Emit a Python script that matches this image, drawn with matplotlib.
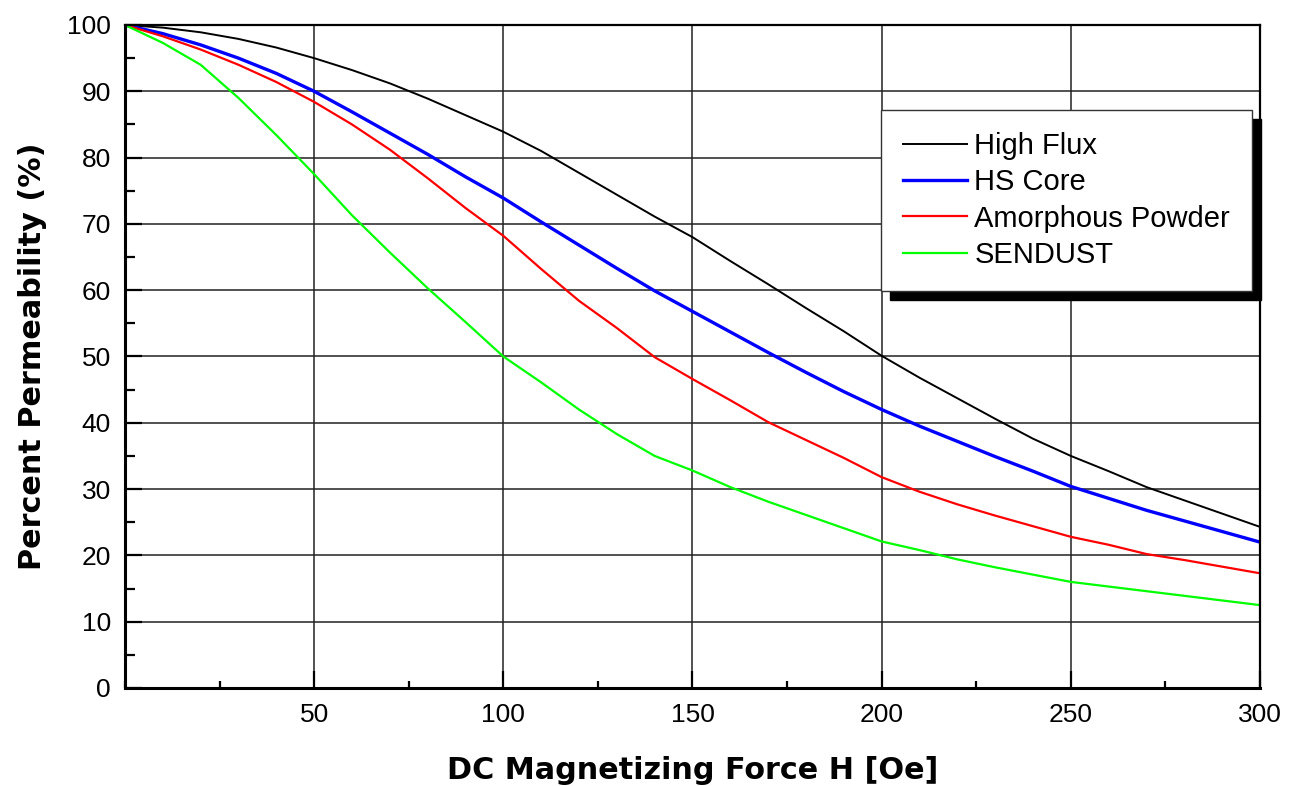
import numpy as np
import matplotlib.pyplot as plt
from matplotlib.ticker import MultipleLocator

plt.rcParams['font.family'] = ['Liberation Sans', 'DejaVu Sans']

# DC magnetizing force H [Oe]
H = [0, 10, 20, 30, 40, 50, 60, 70, 80, 90, 100, 110, 120, 130, 140, 150,
     160, 170, 180, 190, 200, 210, 220, 230, 240, 250, 260, 270, 280, 290, 300]

# percent permeability
high_flux = [100, 99.6, 98.9, 97.9, 96.6, 95.0, 93.2, 91.2, 88.9, 86.4, 83.9,
             81.0, 77.7, 74.4, 71.1, 68.0, 64.4, 60.9, 57.3, 53.8, 50.1,
             46.8, 43.7, 40.6, 37.6, 35.0, 32.7, 30.3, 28.3, 26.3, 24.3]
hs_core = [100, 98.7, 97.0, 95.0, 92.7, 90.0, 86.9, 83.7, 80.5, 77.1, 73.9,
           70.3, 66.8, 63.3, 59.9, 56.8, 53.7, 50.6, 47.6, 44.7, 42.0,
           39.5, 37.2, 34.9, 32.7, 30.4, 28.6, 26.8, 25.2, 23.6, 22.0]
amorphous = [100, 98.3, 96.3, 94.0, 91.4, 88.4, 85.0, 81.2, 76.9, 72.4, 68.2,
             63.2, 58.4, 54.3, 49.9, 46.6, 43.4, 40.1, 37.4, 34.7, 31.8,
             29.6, 27.7, 26.0, 24.4, 22.8, 21.6, 20.2, 19.3, 18.3, 17.3]
sendust = [100, 97.3, 94.0, 89.0, 83.4, 77.5, 71.3, 65.7, 60.3, 55.2, 50.0,
           46.1, 42.0, 38.3, 35.0, 32.8, 30.3, 28.1, 26.1, 24.1, 22.1,
           20.8, 19.4, 18.2, 17.1, 16.0, 15.3, 14.6, 13.9, 13.2, 12.5]

fig = plt.figure(figsize=(12.91, 7.86), dpi=100)
ax = fig.add_axes([0.0968, 0.1247, 0.8792, 0.8435])

ax.plot(H, high_flux, color="black", lw=1.4, label="High Flux")
ax.plot(H, hs_core, color="#0000ff", lw=2.4, label="HS Core")
ax.plot(H, amorphous, color="#ff0000", lw=1.6, label="Amorphous Powder")
ax.plot(H, sendust, color="#00ff00", lw=1.6, label="SENDUST")

ax.set_xlim(0, 300)
ax.set_ylim(0, 100)
ax.set_xticks([50, 100, 150, 200, 250, 300])
ax.set_yticks(range(0, 101, 10))
ax.xaxis.set_minor_locator(MultipleLocator(25))
ax.yaxis.set_minor_locator(MultipleLocator(5))
ax.tick_params(which="both", direction="in", width=1.6, labelsize=19, pad=10)
ax.tick_params(axis="x", pad=11)
ax.tick_params(which="major", length=12)
ax.tick_params(axis="x", which="minor", length=5)
ax.tick_params(axis="y", which="minor", length=7)
ax.grid(True, which="major", color="#222222", lw=1.1)

for s in ["left", "bottom"]:
    ax.spines[s].set_linewidth(2.2)
for s in ["top", "right"]:
    ax.spines[s].set_linewidth(1.6)

ax.set_xlabel("DC Magnetizing Force H [Oe]", fontsize=21.8, fontweight="bold",
              family="DejaVu Sans")
ax.set_ylabel("Percent Permeability (%)", fontsize=21.8, fontweight="bold",
              family="DejaVu Sans")
ax.xaxis.set_label_coords(0.5, -0.103)
ax.yaxis.set_label_coords(-0.069, 0.5)

leg = ax.legend(loc="upper right", bbox_to_anchor=(0.993, 0.872), borderaxespad=0,
                fontsize=21, fancybox=False, edgecolor="#333333", framealpha=1,
                handlelength=2.2, handletextpad=0.25, borderpad=0.75, labelspacing=0.29,
                shadow={"ox": 6.5, "oy": -6.5, "color": "black", "alpha": 1})
leg.get_frame().set_linewidth(1.0)

fig.savefig("out.png", dpi=100)
